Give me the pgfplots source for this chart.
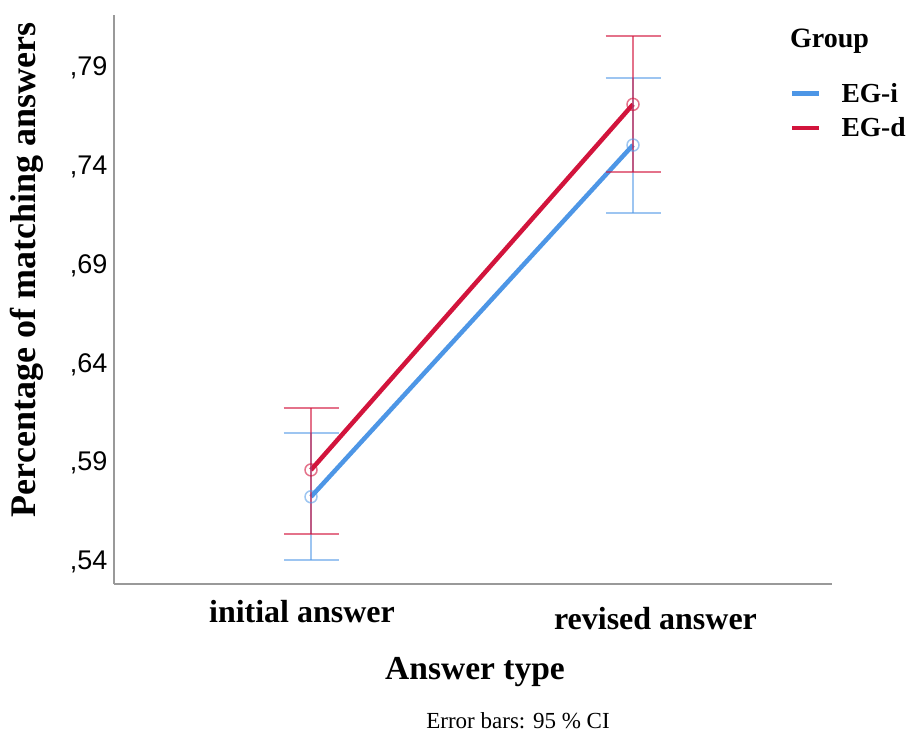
\documentclass[border=0pt]{standalone}
\usepackage{fontspec}
\setmainfont{Liberation Serif}
\newfontfamily\arial{Liberation Sans}
\usepackage{pgfplots}
\pgfplotsset{compat=1.18}
\definecolor{egi}{RGB}{77,150,230}
\definecolor{egd}{RGB}{210,20,60}
\begin{document}
\begin{tikzpicture}[x=1pt,y=1pt]
\useasboundingbox (0,0) rectangle (912,732);
\begin{axis}[
  at={(114pt,148pt)}, anchor=south west,
  scale only axis, width=718pt, height=569pt,
  xmin=0.3882, xmax=2.618, ymin=0.52887, ymax=0.81682,
  axis x line*=bottom, axis y line*=left,
  axis line style={draw=black!40, line width=2pt},
  xtick={1,2},
  xticklabels={\hspace*{-18pt}initial answer,\hspace*{45pt}\rule{0pt}{29pt}revised answer},
  xticklabel style={font=\bfseries\fontsize{32}{38}\selectfont, yshift=-13pt},
  ytick={0.54,0.59,0.64,0.69,0.74,0.79},
  yticklabels={{,54},{,59},{,64},{,69},{,74},{,79}},
  yticklabel style={font=\arial\fontsize{27}{30}\selectfont, xshift=-3pt},
  major tick length=0pt,
  xlabel={Answer type}, ylabel={Percentage of matching answers},
  xlabel style={font=\bfseries\fontsize{33.5}{38}\selectfont, at={(axis description cs:0.5028,-0.1687)}, anchor=base},
  ylabel style={font=\bfseries\fontsize{36}{40}\selectfont, at={(axis description cs:-0.1212,0.5518)}, anchor=center},
  clip=false,
  legend style={draw=none, fill=none, inner sep=0pt, outer sep=0pt,
    at={(axis description cs:0.9415,0.8840)}, anchor=north west,
    font=\bfseries\fontsize{27.5}{32}\selectfont,
    nodes={inner ysep=2pt}, row sep=10pt,
    /tikz/every odd column/.append style={column sep=18pt}},
  legend cell align=left,
  legend image code/.code={\draw[#1] (0pt,0pt) -- (27pt,0pt);},
]
\addplot[egi, line width=4.5pt] coordinates {(1,0.5730) (2,0.7510)};
\addlegendentry{EG-i}
\addplot[egd, line width=4.5pt] coordinates {(1,0.5866) (2,0.7716)};
\addlegendentry{EG-d}
\addplot[egi, forget plot, only marks, mark=o, mark size=6pt,
  mark options={line width=1.5pt, opacity=0.55},
  error bars/.cd, y dir=both, y explicit,
  error bar style={line width=2pt, opacity=0.55},
  error mark options={rotate=90, line width=2pt, mark size=27.5pt, opacity=0.55}]
  coordinates {(1,0.5730) += (0,0.0321) -= (0,0.0320)
               (2,0.7510) += (0,0.0341) -= (0,0.0342)};
\addplot[egd, forget plot, only marks, mark=o, mark size=6pt,
  mark options={line width=1.5pt, opacity=0.6},
  error bars/.cd, y dir=both, y explicit,
  error bar style={line width=2pt, opacity=0.6},
  error mark options={rotate=90, line width=2pt, mark size=27.5pt, opacity=0.6}]
  coordinates {(1,0.5866) += (0,0.0315) -= (0,0.0324)
               (2,0.7716) += (0,0.0346) -= (0,0.0341)};
\end{axis}
\node[anchor=base west, inner sep=0pt, font=\bfseries\fontsize{28}{32}\selectfont] at (790,684) {Group};
\node[anchor=base, inner sep=0pt, font=\fontsize{23}{26}\selectfont] at (518,4) {Error bars: 95 \% CI};
\end{tikzpicture}
\end{document}
